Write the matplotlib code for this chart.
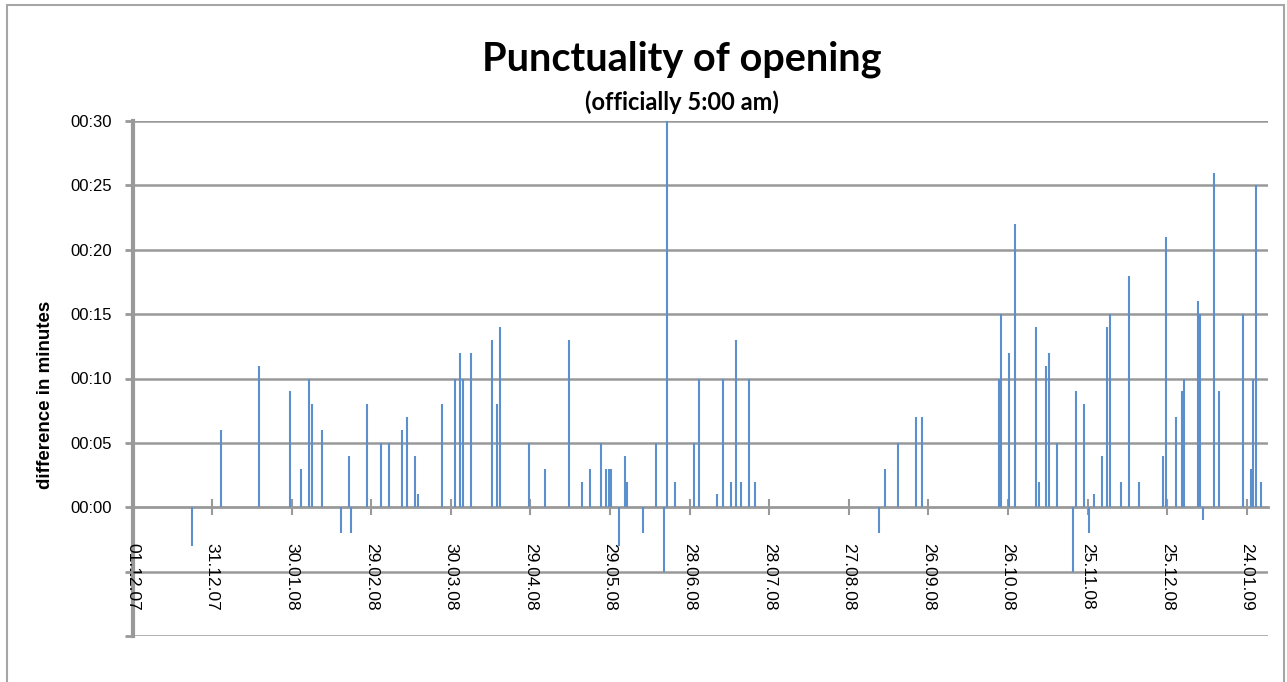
import matplotlib
matplotlib.use("Agg")
import matplotlib.pyplot as plt
import matplotlib.dates as mdates
import matplotlib.patches as patches
from matplotlib.ticker import FixedLocator, FuncFormatter
import pandas as pd

# ---- data ----
dates = [
    "2007-12-23", "2008-01-03", "2008-01-17", "2008-01-29", "2008-02-02", "2008-02-05",
    "2008-02-06", "2008-02-10", "2008-02-17", "2008-02-20", "2008-02-21", "2008-02-27",
    "2008-03-03", "2008-03-06", "2008-03-11", "2008-03-13", "2008-03-16", "2008-03-17",
    "2008-03-26", "2008-03-31", "2008-04-02", "2008-04-03", "2008-04-06", "2008-04-14",
    "2008-04-16", "2008-04-17", "2008-04-28", "2008-05-04", "2008-05-13", "2008-05-18",
    "2008-05-21", "2008-05-25", "2008-05-27", "2008-05-28", "2008-05-29", "2008-06-01",
    "2008-06-03", "2008-06-04", "2008-06-10", "2008-06-15", "2008-06-18", "2008-06-19",
    "2008-06-22", "2008-06-29", "2008-07-01", "2008-07-08", "2008-07-10", "2008-07-13",
    "2008-07-15", "2008-07-17", "2008-07-20", "2008-07-22", "2008-09-07", "2008-09-09",
    "2008-09-14", "2008-09-21", "2008-09-23", "2008-10-22", "2008-10-23", "2008-10-26",
    "2008-10-28", "2008-11-05", "2008-11-06", "2008-11-09", "2008-11-10", "2008-11-13",
    "2008-11-19", "2008-11-20", "2008-11-23", "2008-11-25", "2008-11-27", "2008-11-30",
    "2008-12-02", "2008-12-03", "2008-12-07", "2008-12-10", "2008-12-14", "2008-12-23",
    "2008-12-24", "2008-12-28", "2008-12-30", "2008-12-31", "2009-01-05", "2009-01-06",
    "2009-01-07", "2009-01-11", "2009-01-13", "2009-01-22", "2009-01-25", "2009-01-26",
    "2009-01-27", "2009-01-29",
]
delay_minutes = [
    -3, 6, 11, 9, 3, 10,
    8, 6, -2, 4, -2, 8,
    5, 5, 6, 7, 4, 1,
    8, 10, 12, 10, 12, 13,
    8, 14, 5, 3, 13, 2,
    3, 5, 3, 3, 3, -3,
    4, 2, -2, 5, -5, 35,
    2, 5, 10, 1, 10, 2,
    13, 2, 10, 2, -2, 3,
    5, 7, 7, 10, 15, 12,
    22, 14, 2, 11, 12, 5,
    -5, 9, 8, -2, 1, 4,
    14, 15, 2, 18, 2, 4,
    21, 7, 9, 10, 16, 15,
    -1, 26, 9, 15, 3, 10,
    25, 2,
]
axis_start = "2007-12-01"
axis_end = "2009-02-01"
tick_dates = ["2007-12-01", "2007-12-31", "2008-01-30", "2008-02-29", "2008-03-30",
              "2008-04-29", "2008-05-29", "2008-06-28", "2008-07-28", "2008-08-27",
              "2008-09-26", "2008-10-26", "2008-11-25", "2008-12-25", "2009-01-24"]
y_ticks = [-10, -5, 0, 5, 10, 15, 20, 25, 30]

title = "Punctuality of opening"
subtitle = "(officially 5:00 am)"
ylabel = "difference in minutes"

# ---- figure ----
W, H = 1287, 682
fig = plt.figure(figsize=(W / 100, H / 100), dpi=100)
fig.patch.set_facecolor("white")

# outer chart border
fig.add_artist(patches.Rectangle((7 / W, -0.02), (1284 - 7) / W, (H - 5) / H + 0.02,
                                 transform=fig.transFigure, fill=False,
                                 edgecolor="#a6a6a6", linewidth=1.5))

left, right = 132.5 / W, 1268 / W
bottom, top = (H - 636) / H, (H - 121) / H
ax = fig.add_axes([left, bottom, right - left, top - bottom])

grid_c = "#999999"
bar_c = "#5b8fcd"

x = mdates.date2num(pd.to_datetime(dates)) + 0.5
ax.vlines(x, 0, delay_minutes, color=bar_c, linewidth=1.5, zorder=3)

ax.set_xlim(mdates.date2num(pd.Timestamp(axis_start)), mdates.date2num(pd.Timestamp(axis_end)))
ax.set_ylim(y_ticks[0], y_ticks[-1])

# y axis
ax.yaxis.set_major_locator(FixedLocator(y_ticks))
ax.yaxis.set_major_formatter(FuncFormatter(lambda v, p: f"00:{int(v):02d}" if v >= 0 else ""))
ax.tick_params(axis="y", direction="out", length=6, width=2, color=grid_c,
               labelsize=12, pad=9, labelcolor="black")
for yv in y_ticks:
    if yv != 0:
        ax.axhline(yv, color=grid_c, linewidth=1.8, zorder=1)

# x axis at zero
ax.spines["bottom"].set_position(("data", 0))
ax.spines["bottom"].set_color(grid_c)
ax.spines["bottom"].set_linewidth(2)
ax.spines["left"].set_color(grid_c)
ax.spines["left"].set_linewidth(3)
ax.spines["left"].set_zorder(0.5)
ax.spines["top"].set_visible(False)
ax.spines["right"].set_visible(False)

tk = mdates.date2num(pd.to_datetime(tick_dates))
ax.set_xticks(tk)
ax.set_xticklabels([pd.Timestamp(d).strftime("%d.%m.%y") for d in tick_dates],
                   rotation=270, ha="center", va="top", fontsize=12.5)
ax.tick_params(axis="x", direction="inout", length=11, width=1.5, color=grid_c, pad=20)

for lab in ax.get_xticklabels() + ax.get_yticklabels():
    lab.set_family(["Liberation Sans", "DejaVu Sans"])

ax.set_ylabel(ylabel, fontsize=13.5, fontweight="bold", family=["Liberation Sans", "DejaVu Sans"])
ax.yaxis.set_label_coords(-(132.5 - 54) / (1268 - 132.5), (636 - 395) / (636 - 121))

fig.text(682 / W, 1 - 59 / H, title, ha="center", va="center", fontsize=28.5,
         fontweight="bold", family=["Lato", "DejaVu Sans"])
fig.text(682 / W, 1 - 102 / H, subtitle, ha="center", va="center", fontsize=17,
         fontweight="bold", family=["Lato", "DejaVu Sans"])

fig.savefig("out.png", dpi=100)
